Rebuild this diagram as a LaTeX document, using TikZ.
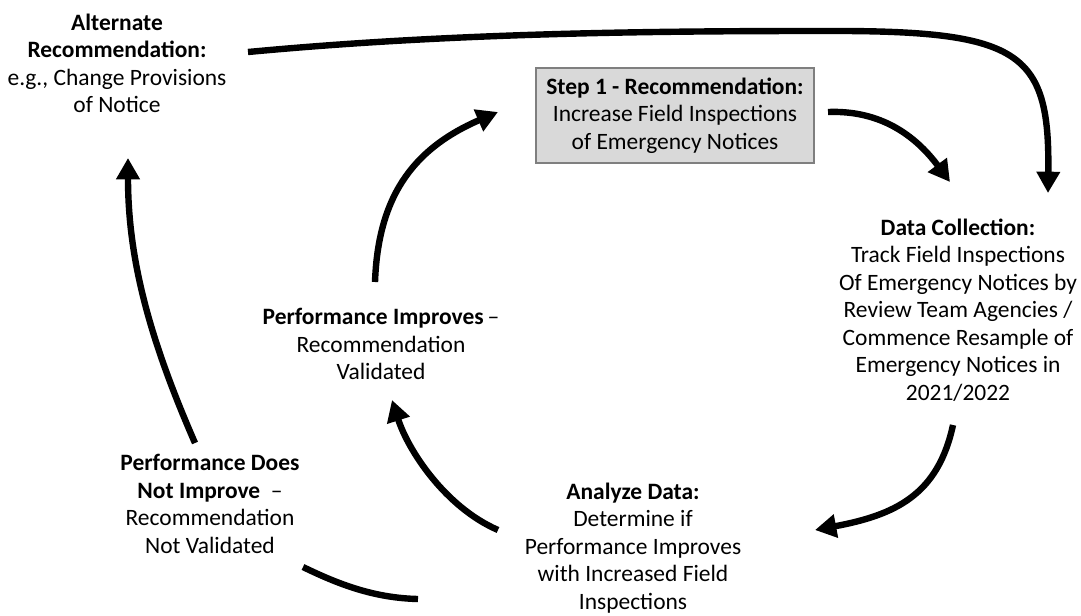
\documentclass[tikz,border=0pt]{standalone}
\usepackage{fontspec}
\setmainfont{Carlito}
\usepackage{xcolor}
\usetikzlibrary{arrows.meta,calc}

\definecolor{boxgray}{HTML}{D9D9D9}
\definecolor{boxline}{HTML}{7F7F7F}

\begin{document}
\begin{tikzpicture}[x=0.75pt,y=-0.75pt,
                    every node/.style={font=\fontsize{17.6}{20.6}\selectfont,
                                       align=center,inner sep=0pt},
                    box/.style={draw=boxline,line width=0.8pt,fill=boxgray,
                                minimum width=208.5pt,minimum height=71.25pt},
                    flow/.style={line width=4.8pt,-{Triangle[length=16pt,width=17pt]}},
                    link/.style={line width=4.8pt}]
  \useasboundingbox (0,0) rectangle (1081,615);

  \node (alt) at (117,63.5) {\textbf{Alternate}\\\textbf{Recommendation:}\\
        e.g., Change Provisions\\of Notice};
  \node[box] (step) at (675,115.5) {\textbf{Step 1 - Recommendation:}\\
        Increase Field Inspections\\of Emergency Notices};
  \node (dc) at (958,310) {\textbf{Data Collection:}\\Track Field Inspections\\
        Of Emergency Notices by\\Review Team Agencies /\\
        Commence Resample of\\Emergency Notices in\\2021/2022};
  \node (ana) at (633,548) {\textbf{Analyze Data:}\\Determine if\\
        Performance Improves\\with Increased Field\\Inspections};
  \node (imp) at (381,344) {\textbf{Performance Improves}\,--\\Recommendation\\Validated};
  \node (noimp) at (210,504) {\textbf{Performance Does}\\\textbf{Not Improve}\ \ --\\
        Recommendation\\Not Validated};

  % the loop
  \draw[flow] ($(step)+(153,-3.5)$) .. controls (880,110) and (915,135) .. ($(dc)+(-8,-128)$);
  \draw[flow] ($(dc)+(-5,115)$) .. controls (938,495) and (895,515) .. ($(ana)+(182,-18)$);
  \draw[flow] ($(ana)+(-135,-18)$) .. controls (445,507) and (408,450) .. ($(imp)+(11,56)$);
  \draw[flow] ($(imp)+(-6,-62)$) .. controls (378,200) and (410,150) .. ($(step)+(-177,-3.5)$);

  % when it does not work out
  \draw[link] ($(ana)+(-215,51)$) .. controls (375,598) and (340,585) .. ($(noimp)+(93,63)$);
  \draw[flow] ($(noimp)+(-15,-61)$) .. controls (150,340) and (128,260) .. ($(alt)+(11,94.5)$);
  \draw[flow] ($(alt)+(131,-11.5)$) .. controls (450,33) and (650,31) .. (820,31)
        .. controls (1020,30) and (1050,50) .. ($(dc)+(90,-117)$);
\end{tikzpicture}
\end{document}
